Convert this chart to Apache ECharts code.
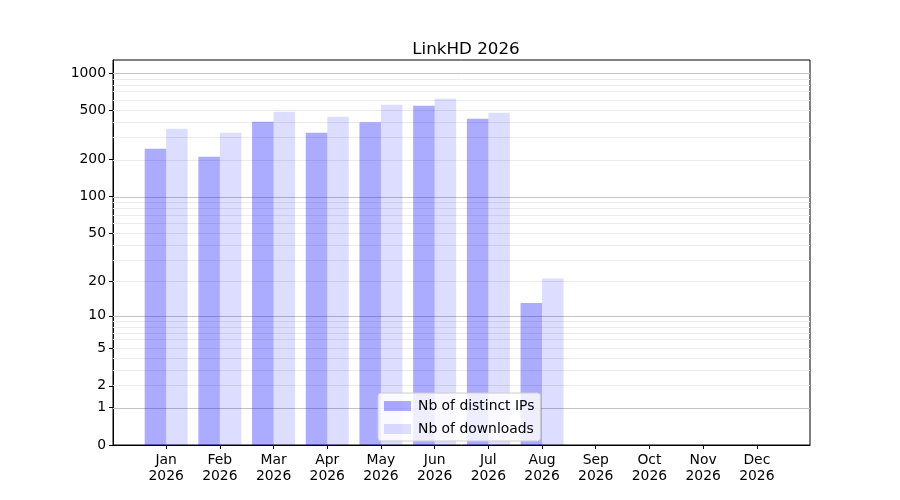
<!DOCTYPE html>
<html>
<head>
<meta charset="utf-8">
<script src="https://cdn.jsdelivr.net/npm/echarts@6/dist/echarts.min.js"></script>
<style>
  html, body { margin: 0; padding: 0; background: #fff; }
  #main { width: 900px; height: 500px; }
</style>
</head>
<body>
<div id="main"></div>
<script>
// month labels
var months = ['Jan', 'Feb', 'Mar', 'Apr', 'May', 'Jun', 'Jul', 'Aug', 'Sep', 'Oct', 'Nov', 'Dec'];
var year = '2026';

// values
var distinctIPs = [244, 210, 404, 329, 399, 544, 427, 13, 0, 0, 0, 0];
var downloads = [355, 329, 486, 443, 554, 620, 477, 21, 0, 0, 0, 0];

// y tick labels and grid lines (symlog-like axis, log10(v + 1))
var yTicks = [0, 1, 2, 5, 10, 20, 50, 100, 200, 500, 1000];
var majorLines = [1, 10, 100, 1000];
var minorLines = [2, 3, 4, 5, 6, 7, 8, 9, 20, 30, 40, 50, 60, 70, 80, 90, 200, 300, 400, 500, 600, 700, 800, 900];

function tr(v) { return Math.log10(v + 1); }

function toPoints(arr) {
    return arr.map(function (v, i) { return [i, tr(v)]; });
}

var FONT = 'DejaVu Sans';

var gridLines = [];
minorLines.forEach(function (v) {
    gridLines.push({ yAxis: tr(v), lineStyle: { color: '#ebebeb', width: 1, type: 'solid' } });
});
majorLines.forEach(function (v) {
    gridLines.push({ yAxis: tr(v), lineStyle: { color: '#c4c4c4', width: 1, type: 'solid' } });
});

var Chart = echarts.init(document.getElementById('main'));
Chart.setOption({
    animation: false,
    title: {
        text: 'LinkHD 2026',
        left: 461,
        textAlign: 'center',
        top: 36,
        textStyle: { fontFamily: FONT, fontSize: 16.7, fontWeight: 'normal', color: '#000' }
    },
    legend: {
        orient: 'vertical',
        left: 378,
        top: 393,
        itemWidth: 27,
        itemHeight: 10,
        itemGap: 9,
        padding: [6, 6, 5, 6],
        icon: 'rect',
        borderColor: '#cccccc',
        borderWidth: 1,
        borderRadius: 3,
        backgroundColor: 'rgba(255,255,255,0.8)',
        textStyle: { fontFamily: FONT, fontSize: 13.9, color: '#000', padding: [0, 0, 0, 2] },
        data: ['Nb of distinct IPs', 'Nb of downloads']
    },
    grid: {
        left: 113,
        top: 60,
        width: 697,
        height: 385,
        show: true,
        borderColor: '#000',
        borderWidth: 1,
        backgroundColor: 'transparent'
    },
    xAxis: {
        type: 'value',
        min: -0.99,
        max: 11.99,
        axisLine: { show: true, onZero: false, lineStyle: { color: '#000', width: 1 } },
        axisTick: {
            show: true,
            length: 4,
            lineStyle: { color: '#000' },
            customValues: months.map(function (m, i) { return i; })
        },
        axisLabel: {
            customValues: months.map(function (m, i) { return i; }),
            margin: 7,
            fontFamily: FONT,
            fontSize: 13.9,
            color: '#000',
            lineHeight: 16,
            formatter: function (v) { return months[Math.round(v)] + '\n' + year; }
        },
        splitLine: { show: false }
    },
    yAxis: {
        type: 'value',
        min: 0,
        max: 3.105,
        axisLine: { show: true, onZero: false, lineStyle: { color: '#000', width: 1 } },
        axisTick: {
            show: true,
            length: 4,
            lineStyle: { color: '#000' },
            customValues: yTicks.map(tr)
        },
        axisLabel: {
            customValues: yTicks.map(tr),
            margin: 7,
            fontFamily: FONT,
            fontSize: 13.9,
            color: '#000',
            formatter: function (v) { return String(Math.round(Math.pow(10, v) - 1)); }
        },
        splitLine: { show: false }
    },
    series: [
        {
            // grid lines only
            name: 'grid',
            type: 'line',
            data: [],
            z: 1,
            silent: true,
            markLine: {
                z: 1,
                silent: true,
                symbol: 'none',
                label: { show: false },
                animation: false,
                data: gridLines
            }
        },
        {
            name: 'Nb of distinct IPs',
            type: 'bar',
            z: 3,
            barWidth: 21.5,
            barGap: '0%',
            itemStyle: { color: 'rgba(0,0,255,0.33)' },
            data: toPoints(distinctIPs)
        },
        {
            name: 'Nb of downloads',
            type: 'bar',
            z: 3,
            barWidth: 21.5,
            barGap: '0%',
            itemStyle: { color: 'rgba(0,0,255,0.135)' },
            data: toPoints(downloads)
        }
    ]
});
</script>
</body>
</html>
